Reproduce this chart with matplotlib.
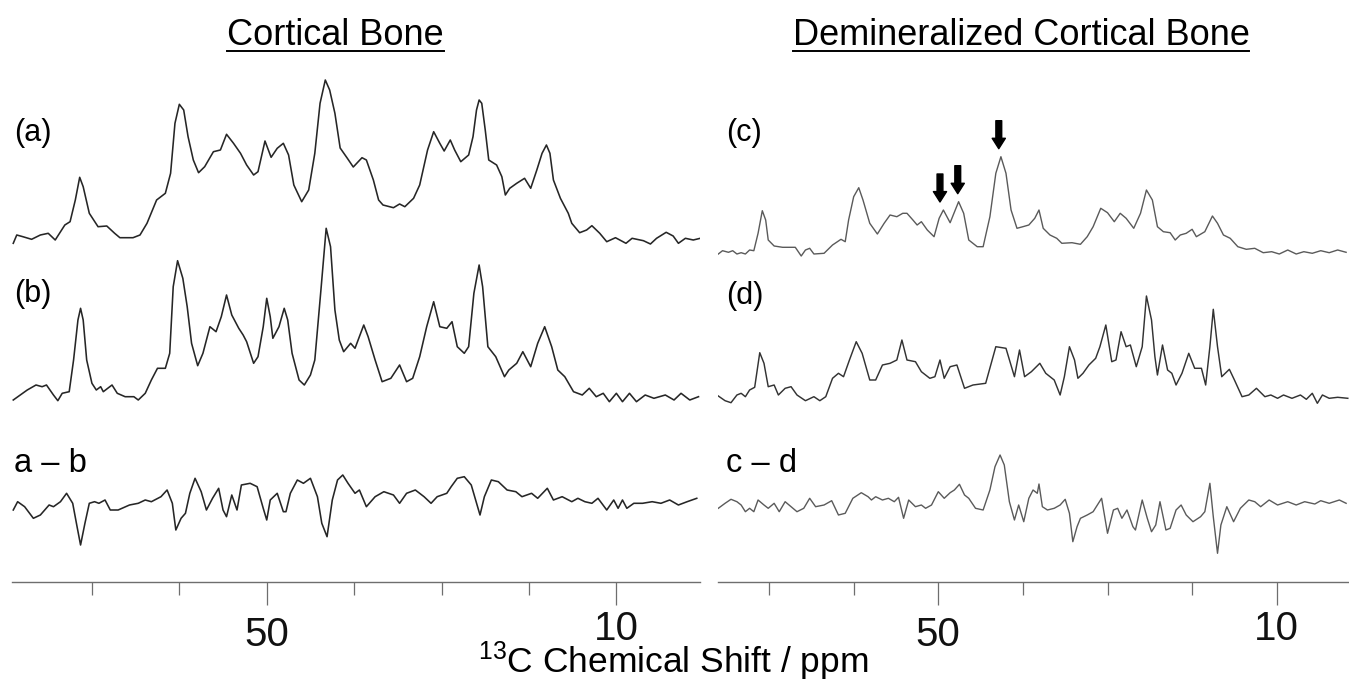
import numpy as np
import matplotlib
matplotlib.use('Agg')
import matplotlib.pyplot as plt
from matplotlib.lines import Line2D
from matplotlib.transforms import ScaledTranslation

# ---------------- data (ppm, intensity above each trace's baseline) ----------------
A_PPM = [79.0, 78.6, 77.9, 76.9, 75.9, 75.0, 74.2, 73.1, 72.5, 71.9,
         71.4, 71.0, 70.3, 69.3, 68.3, 67.4, 66.8, 65.3, 64.5, 63.7,
         62.6, 61.6, 61.0, 60.5, 60.0, 59.5, 59.0, 58.4, 57.8, 57.1,
         56.1, 55.3, 54.6, 53.8, 53.0, 52.3, 51.5, 51.0, 50.2, 49.5,
         48.8, 48.1, 47.5, 46.9, 46.0, 45.2, 44.5, 43.9, 43.3, 42.8,
         42.2, 41.6, 40.8, 40.1, 39.1, 38.6, 37.8, 37.2, 36.7, 35.5,
         34.8, 34.2, 33.2, 32.5, 31.6, 30.9, 30.2, 29.7, 29.0, 28.5,
         27.8, 26.9, 26.4, 26.0, 25.7, 25.4, 25.0, 24.6, 23.7, 23.1,
         22.7, 22.2, 21.4, 20.5, 19.8, 19.1, 18.5, 18.0, 17.6, 17.2,
         16.4, 15.5, 15.1, 14.2, 13.4, 12.8, 11.9, 11.1, 10.1, 8.9,
         8.2, 6.9, 6.1, 5.4, 4.3, 3.5, 2.9, 2.1, 1.2, 0.4]
A_INT = [-5.3, 3, 1.3, -1.3, 3, 4.7, -2, 13, 16.3, 38,
         60.7, 51.3, 24.7, 11.3, 12, 4.7, 0.3, 0.3, 3, 14.7,
         38, 44.7, 64.7, 114.7, 133.7, 128, 101.3, 78, 65.3, 71.3,
         86.3, 88, 103.7, 94.7, 84.7, 73, 63, 66.3, 97, 80.7,
         89.7, 94.7, 83, 53, 36.3, 48, 84.7, 134.7, 158, 148,
         124.7, 90, 80, 71, 80.3, 78, 58, 38, 33, 30.3,
         34, 31.3, 39.7, 53, 88, 106.3, 94.7, 87, 98, 88,
         76.3, 83, 101.3, 128, 138, 134.7, 108, 78, 73, 61.3,
         43, 49.7, 54.7, 59.7, 49.7, 68, 84.7, 93, 84.7, 58,
         39.7, 24.7, 14.7, 5.3, 8, 12.3, 4.7, -3.7, 0.3, -5.3,
         -0.3, -2.7, -6, -0.3, 5.7, 2, -5.3, -0.3, -2, -0.3]

B_PPM = [79.0, 78.2, 77.4, 76.4, 75.7, 75.2, 74.4, 73.9, 73.4, 72.6,
         72.1, 71.6, 71.3, 71.0, 70.6, 70.0, 69.5, 69.0, 68.7, 67.7,
         67.1, 66.2, 65.2, 64.7, 63.9, 63.2, 62.5, 61.6, 61.1, 60.7,
         60.2, 59.6, 59.1, 58.6, 57.9, 57.3, 56.5, 55.8, 55.2, 54.6,
         54.0, 53.2, 52.7, 52.3, 51.5, 51.0, 50.4, 50.0, 49.6, 49.3,
         48.6, 48.0, 47.6, 47.1, 46.3, 45.7, 45.0, 44.5, 43.8, 43.2,
         42.7, 42.2, 41.7, 41.2, 40.4, 39.9, 38.9, 38.4, 37.6, 36.8,
         35.8, 34.8, 34.0, 33.3, 32.5, 31.7, 30.9, 30.2, 29.4, 28.8,
         28.2, 27.4, 26.9, 26.3, 25.7, 25.3, 24.7, 23.8, 22.8, 22.3,
         21.4, 20.7, 19.8, 19.0, 18.2, 17.4, 16.7, 15.9, 14.9, 13.9,
         13.1, 12.3, 11.5, 10.8, 10.0, 9.3, 8.5, 7.7, 6.7, 5.7,
         4.4, 3.4, 2.6, 1.6, 0.6]
B_INT = [-4, 1, 6, 11, 9.3, 11, 1, -4.7, 2.7, 4.3,
         36, 76, 87.7, 76, 36, 12.7, 6, 9.3, 4.3, 11,
         2.7, -0.7, -0.7, -4, 2.7, 16, 27.7, 27.7, 42.7, 109.3,
         135.3, 117.7, 89.3, 52.7, 30.3, 42.7, 69.3, 64.3, 79.3, 101,
         81, 67.7, 61, 54.3, 32.7, 39.3, 69.3, 97.7, 79.3, 57.7,
         69.3, 87.7, 76, 42.7, 16, 11, 21, 36, 106, 167.7,
         149.3, 86, 56, 44.3, 52.7, 47.7, 71, 59.3, 36, 14.3,
         17.7, 31, 14.3, 17.7, 39.3, 69.3, 94.3, 69.3, 67.7, 74.3,
         49.3, 42.7, 49.3, 102.7, 131, 109.3, 49.3, 39.3, 19.3, 26,
         32.7, 44.3, 29.3, 52.7, 69.3, 49.3, 26, 19.3, 4.3, 1,
         7.7, -0.7, 2.7, -5.7, 2.7, -5.7, 2.7, -5.7, 1, -2.3,
         1, -4, 2.7, -4, -0.7]

AB_PPM = [79.0, 78.5, 77.7, 76.7, 75.9, 75.4, 74.9, 74.4, 73.6, 72.9,
          72.2, 71.7, 71.3, 70.8, 70.3, 69.7, 69.2, 68.5, 67.9, 67.0,
          65.7, 64.7, 63.9, 63.2, 62.1, 61.4, 60.8, 60.4, 59.8, 59.3,
          58.8, 58.2, 57.5, 56.9, 56.2, 55.5, 55.0, 54.6, 54.0, 53.4,
          52.9, 51.9, 51.1, 50.4, 50.0, 49.6, 48.8, 48.1, 47.8, 47.3,
          46.5, 45.8, 45.0, 44.2, 43.7, 43.1, 42.5, 41.9, 41.3, 40.7,
          39.9, 39.4, 38.6, 37.6, 36.6, 35.5, 34.8, 34.0, 33.0, 32.0,
          31.2, 30.5, 29.4, 28.9, 28.2, 27.4, 26.6, 26.1, 25.6, 25.1,
          24.3, 23.5, 22.5, 21.5, 20.8, 19.7, 19.0, 17.9, 17.2, 16.2,
          15.1, 14.4, 13.6, 12.8, 12.1, 11.1, 10.3, 9.8, 9.3, 8.8,
          8.0, 7.0, 5.9, 4.9, 3.9, 2.9, 1.9, 0.8]
AB_INT = [-8, 0.3, -4.7, -16.3, -13, -8, -3, -4.7, 0.3, 8.7,
          -1.3, -24.7, -43, -21.3, -1.3, 0.3, -1.3, 2, -8, -8,
          -3, -1.3, 2, 0.3, 5.3, 12, -1.3, -28, -16.3, -11.3,
          8.7, 23.7, 10.3, -8, 3.7, 13.7, -8, -14.7, 7, -8,
          17, 18.7, 15.3, -6.3, -18, 2, 8.7, -9.7, -9.7, 8.7,
          22, 18.7, 23.7, 5.3, -21.3, -34.7, 2, 22, 27, 18.7,
          8.7, 12, -4.7, 5.3, 10.3, 7, -1.3, 8.7, 12, 5.3,
          -1.3, 5.3, 8.7, 15.3, 23.7, 25.3, 17, 2, -13, 5.3,
          22, 20.3, 12, 10.3, 5.3, 8.7, 3.7, 13.7, 2, 5.3,
          0.3, 3.7, 0.3, -1.3, 3.7, -8, 2, -6.3, 2, -6.3,
          -1.3, -1.3, 0.3, -1.3, 2, -3, 0.3, 3.7]

C_PPM = [76.0, 75.5, 74.8, 74.3, 73.8, 73.3, 72.8, 72.3, 71.8, 71.3,
         70.8, 70.4, 70.1, 69.4, 68.4, 66.9, 66.2, 65.7, 65.2, 64.7,
         63.5, 62.5, 61.5, 61.0, 60.6, 60.0, 59.4, 58.9, 58.1, 57.2,
         56.4, 55.7, 54.9, 54.2, 53.7, 53.0, 52.5, 52.0, 51.3, 50.5,
         49.9, 49.4, 48.6, 47.6, 47.0, 46.4, 45.4, 44.7, 43.9, 43.2,
         42.6, 42.0, 41.4, 40.7, 40.0, 39.3, 38.6, 38.1, 37.6, 36.8,
         36.0, 35.4, 34.2, 33.2, 32.4, 31.7, 30.8, 30.0, 29.2, 28.5,
         27.8, 26.9, 26.1, 25.4, 24.7, 24.1, 23.4, 22.6, 22.0, 21.4,
         20.7, 20.0, 19.5, 18.5, 17.6, 17.0, 16.3, 15.5, 14.6, 13.6,
         12.6, 11.6, 10.6, 9.7, 8.7, 7.7, 6.8, 5.8, 4.8, 3.8,
         2.8, 1.8]
C_INT = [-2, 1.3, -0.3, 1.3, -2, -0.7, -2, 2, 1.3, 18.7,
         41.3, 32, 12, 6, 4.7, 4.7, -4, 2, 3.7, -2,
         -1.3, 7, 12.7, 10.3, 32, 55.3, 64.3, 52, 28.7, 18,
         28.7, 37, 35.3, 38.7, 38.7, 32, 27, 30.3, 22, 15.3,
         33.7, 42, 29.3, 50.3, 38.7, 12, 5.3, 5.3, 35.3, 78.7,
         95.3, 78.7, 42, 23.7, 25.3, 27, 33.7, 42, 23.7, 17,
         13.7, 8.7, 9.3, 7.7, 15.3, 25.3, 43.7, 39.3, 30.3, 38.7,
         33.7, 23.7, 38.7, 62, 52, 25.3, 20.3, 19.3, 12, 17,
         18.7, 22.7, 15.3, 20.3, 36, 28.7, 17, 13.7, 5.3, 2.7,
         3.7, -0.7, 0.3, -2, 2, -2, 0.3, -1.3, 1.3, -0.7,
         2, -0.3]

D_PPM = [76.0, 75.2, 74.5, 73.8, 73.3, 72.8, 72.3, 71.7, 71.1, 70.6,
         70.1, 69.4, 68.9, 68.1, 67.4, 66.7, 65.7, 64.7, 64.0, 63.3,
         62.5, 61.8, 61.2, 60.5, 59.7, 59.0, 58.1, 57.4, 56.6, 55.7,
         54.9, 54.3, 53.7, 52.7, 52.0, 51.0, 50.4, 49.8, 49.3, 48.6,
         47.8, 46.9, 45.9, 44.4, 43.2, 42.0, 41.0, 40.4, 39.8, 39.0,
         38.0, 37.3, 36.3, 35.6, 35.1, 34.5, 33.9, 33.5, 32.9, 32.2,
         31.4, 30.9, 30.2, 29.5, 29.0, 28.4, 27.8, 27.3, 26.6, 25.9,
         25.4, 24.8, 24.4, 24.1, 23.5, 22.9, 22.4, 21.9, 21.2, 20.4,
         19.7, 18.9, 18.4, 17.9, 17.5, 17.0, 16.5, 15.6, 15.0, 14.1,
         13.3, 12.4, 11.4, 10.7, 9.9, 9.2, 8.2, 7.2, 6.5, 5.8,
         5.2, 4.6, 3.8, 2.8, 1.6]
D_INT = [2, -2.7, -4.7, 3, 4.7, 1.3, 8, 10.7, 45.3, 34.7,
         11.3, 13, 3, 9.7, 11.3, 3, -2.7, 1.3, -2.7, 1.3,
         19.7, 24.7, 21.3, 38, 56.3, 44.7, 18, 18, 33, 34.7,
         38, 58, 38, 36.3, 26.3, 19.7, 21.3, 38, 19.7, 31.3,
         33, 9.7, 13, 14.7, 51.3, 49.7, 21.3, 48, 21.3, 26.3,
         34.7, 24.7, 18, 3, 21.3, 51.3, 38, 19.7, 24.7, 33,
         39.7, 51.3, 73, 36.3, 38, 66.3, 51.3, 53, 31.3, 51.3,
         102, 78, 41.3, 23, 53, 28, 24.7, 13, 24.7, 44.7,
         29.7, 29.7, 13, 51.3, 88.7, 51.3, 21.3, 28.7, 18, 1.3,
         3, 9.7, 1.3, 3, -0.3, 3, -0.3, 3, -1.3, 4.7,
         -5.3, 3, -0.3, 0.7, -0.3]

CD_PPM = [76.0, 75.2, 74.5, 73.8, 73.3, 72.8, 72.3, 71.8, 71.3, 70.6,
          70.1, 69.4, 68.8, 68.1, 67.4, 66.7, 65.9, 65.2, 64.5, 63.5,
          62.6, 61.8, 61.0, 60.1, 59.1, 58.3, 57.9, 57.4, 56.6, 55.9,
          55.2, 54.7, 54.1, 53.5, 52.7, 52.0, 51.5, 50.8, 50.0, 49.3,
          48.6, 48.1, 47.5, 46.9, 46.4, 45.6, 44.7, 43.9, 43.3, 42.7,
          42.2, 41.6, 41.0, 40.5, 39.9, 39.3, 38.8, 38.3, 38.1, 37.7,
          37.1, 36.3, 35.6, 35.0, 34.5, 34.1, 33.6, 33.2, 32.4, 31.7,
          30.7, 30.0, 29.3, 28.8, 28.3, 27.7, 27.0, 26.7, 25.9, 25.3,
          24.8, 24.3, 23.8, 23.1, 22.6, 21.9, 21.3, 20.7, 19.9, 19.0,
          18.5, 17.9, 17.5, 17.0, 16.6, 15.9, 15.1, 14.3, 13.3, 12.6,
          11.9, 10.9, 9.9, 8.7, 7.7, 6.7, 5.5, 4.8, 3.8, 2.6,
          1.8]
CD_INT = [-5.3, -0.3, 3.7, 1.3, -2, -8.7, -5.3, -8.7, 3, -2,
          -5.3, -0.3, -8.7, 1.3, -3.7, -8.7, -5.3, 4.7, -3.7, -2,
          2.3, -12, -10.3, 4.7, 10.3, 6.3, 3, 6.3, 3, 4.7,
          1.3, 5.7, -15.3, 3, -3.7, -2, -5.3, -2, 11.3, 4.7,
          10.3, 13, 18.7, 8, 4.7, -5.3, -7, 13, 36.3, 48,
          38, 1.3, -17, -2, -18.7, 4.7, 13, 9.7, 19, -3.7,
          -7, -5.3, -2, 3.7, -10.3, -38.7, -23.7, -15.3, -12, -8.7,
          4.7, -30.3, -7, -5.3, -15.3, -7, -23.7, -27, 3, -15.3,
          -28.7, -22, 1.3, -27, -25.3, -7, -2, -12, -18.7, -13.7,
          -8.7, 19.7, -13.7, -50.3, -22, -3.7, -18.7, -5.3, 3, 1.3,
          -3.7, 3, -2, 1.3, -2, 1.3, -1, 2.3, -0.3, 3,
          -0.3]

ARROW_PPM = [49.8, 47.7, 42.85]
MAJOR_TICKS = [50, 10]
MINOR_TICKS = [70, 60, 40, 30, 20]
TITLES = ['Cortical Bone', 'Demineralized Cortical Bone']
LEFT_LABELS = ['(a)', '(b)', 'a \u2013 b']
RIGHT_LABELS = ['(c)', '(d)', 'c \u2013 d']
XLABEL = r'$\mathregular{^{13}}$C Chemical Shift / ppm'

# ---------------- styling ----------------
plt.rcParams['font.family'] = ['Liberation Sans', 'DejaVu Sans']
plt.rcParams['mathtext.fontset'] = 'custom'
plt.rcParams['mathtext.rm'] = 'Liberation Sans'

W, H = 1349, 689
fig = plt.figure(figsize=(W / 100, H / 100), dpi=100)


def fx(px):
    return px / W


def fy(py):
    return 1 - py / H


AX_TOP, AX_BOT = 60, 582
hfrac = (AX_BOT - AX_TOP) / H
axL = fig.add_axes([fx(12.3), fy(AX_BOT), fx(700) - fx(12.3), hfrac])
axR = fig.add_axes([fx(718.3), fy(AX_BOT), fx(1349) - fx(718.3), hfrac])
axL.set_xlim(79.11, 0.43)
axR.set_xlim(76.0, 1.46)

SPINE = '#6e6e6e'
for ax in (axL, axR):
    ax.set_ylim(0, AX_BOT - AX_TOP)
    for s in ('top', 'left', 'right'):
        ax.spines[s].set_visible(False)
    ax.spines['bottom'].set_color(SPINE)
    ax.spines['bottom'].set_linewidth(1.0)
    ax.set_yticks([])
    ax.set_xticks(MAJOR_TICKS)
    ax.set_xticklabels([str(t) for t in MAJOR_TICKS])
    ax.set_xticks(MINOR_TICKS, minor=True)
    ax.tick_params(axis='x', which='major', length=16.5, width=0.9,
                   color=SPINE, labelsize=29, pad=8, labelcolor='#111111')
    ax.tick_params(axis='x', which='minor', length=9.5, width=0.9, color=SPINE)
    ax.patch.set_alpha(0)
    # the "10" label sits a few pixels higher than the "50" label in the original
    lab10 = ax.xaxis.get_major_ticks()[1].label1
    lab10.set_transform(lab10.get_transform() + ScaledTranslation(0, 6 / 100, fig.dpi_scale_trans))

# baselines of the stacked traces (pixels above the axis line)
OFF_L = [344, 186, 80]
OFF_R = [330, 184, 79]

traces_L = [(A_PPM, A_INT, '#262626', 1.15),
            (B_PPM, B_INT, '#262626', 1.15),
            (AB_PPM, AB_INT, '#262626', 1.15)]
traces_R = [(C_PPM, C_INT, '#5a5a5a', 1.0),
            (D_PPM, D_INT, '#333333', 1.05),
            (CD_PPM, CD_INT, '#5a5a5a', 1.0)]

for (p, v, c, lw), off in zip(traces_L, OFF_L):
    axL.plot(p, np.asarray(v) + off, color=c, lw=lw, solid_joinstyle='round')
for (p, v, c, lw), off in zip(traces_R, OFF_R):
    axR.plot(p, np.asarray(v) + off, color=c, lw=lw, solid_joinstyle='round')

# arrows above peaks in (c)
cp = np.asarray(C_PPM)
ci = np.asarray(C_INT)
for ap in ARROW_PPM:
    near = np.abs(cp - ap) < 0.7
    top = ci[near].max() + OFF_R[0] + 8
    axR.annotate('', xy=(ap, top), xytext=(ap, top + 28),
                 arrowprops=dict(arrowstyle='simple,head_length=0.75,head_width=0.95,tail_width=0.42',
                                 fc='black', ec='black', shrinkA=0, shrinkB=0))

# panel labels
for lab, y, fs in zip(LEFT_LABELS, [133, 294, 464], [22, 22, 23.5]):
    fig.text(fx(14), fy(y), lab, fontsize=fs, va='center', ha='left')
for lab, y, fs in zip(RIGHT_LABELS, [133, 296, 464], [22, 22, 23.5]):
    fig.text(fx(726), fy(y), lab, fontsize=fs, va='center', ha='left')

# titles with underline
tt = [fig.text(fx(335.5), fy(45), TITLES[0], fontsize=26, ha='center', va='baseline'),
      fig.text(fx(1021), fy(45), TITLES[1], fontsize=26, ha='center', va='baseline')]
fig.text(fx(673.5), fy(673), XLABEL, fontsize=25.5, ha='center', va='baseline')

fig.canvas.draw()
r = fig.canvas.get_renderer()
for t in tt:
    bb = t.get_window_extent(renderer=r)
    fig.add_artist(Line2D([bb.x0 / W, bb.x1 / W], [fy(50.5), fy(50.5)],
                          transform=fig.transFigure, color='black', lw=1.4))

fig.savefig('out.png', dpi=100)
